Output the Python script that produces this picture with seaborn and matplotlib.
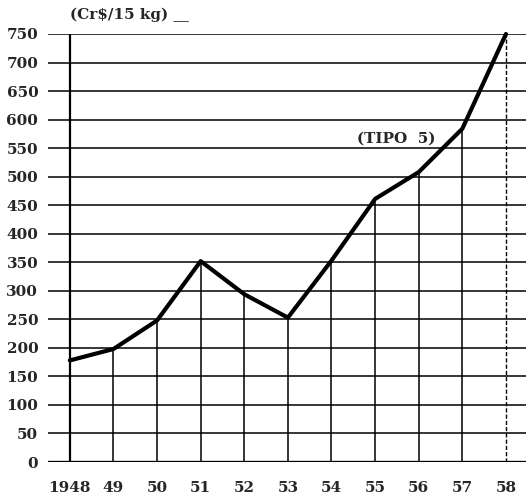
import numpy as np
import pandas as pd
import matplotlib.pyplot as plt
import seaborn as sns

# price of coffee (Tipo 5), Cr$ per 15 kg
years = ["1948", "49", "50", "51", "52", "53", "54", "55", "56", "57", "58"]
prices = [178, 198, 248, 352, 294, 253, 353, 461, 508, 584, 750]
yticks = list(range(0, 751, 50))

df = pd.DataFrame({"pos": np.arange(len(years)), "price": prices})

sns.set_style("white")
plt.rcParams["font.family"] = ["DejaVu Serif"]
plt.rcParams["font.weight"] = "bold"

fig = plt.figure(figsize=(5.26, 4.97), dpi=100)
ax = fig.add_axes([0.0913, 0.0704, 0.9087, 0.8612])

# horizontal rules
for v in yticks[1:]:
    ax.axhline(v, color="black", lw=1.1, zorder=1)
ax.axhline(0, color="black", lw=2.4, zorder=3)

# drop lines from each point to the base
ax.vlines(df["pos"][1:-1], 0, df["price"][1:-1], color="black", lw=1.1, zorder=1)
ax.vlines(0, 0, yticks[-1], color="black", lw=1.6, zorder=1)
ax.vlines(df["pos"].iloc[-1], 0, yticks[-1], color="black", lw=1.0,
          linestyle=(0, (3, 1.5)), zorder=1)

sns.lineplot(data=df, x="pos", y="price", ax=ax, color="black", lw=3.0,
             zorder=4, clip_on=False)

ax.set_xlim(-0.5, 10.46)
ax.set_ylim(0, 750)
ax.set_xticks(df["pos"], years)
ax.set_yticks(yticks, [str(t) for t in yticks])
ax.tick_params(axis="y", length=0, pad=7, labelsize=11)
ax.tick_params(axis="x", length=0, pad=14, labelsize=11)
ax.set_xlabel("")
ax.set_ylabel("")
for s in ax.spines.values():
    s.set_visible(False)

fig.text(0.133, 0.97, "(Cr$/15 kg) __", fontsize=11, fontweight="bold", va="center")
ax.text(6.58, 567, "(TIPO  5)", fontsize=11, fontweight="bold", va="center")

fig.savefig("out.png", dpi=100)
